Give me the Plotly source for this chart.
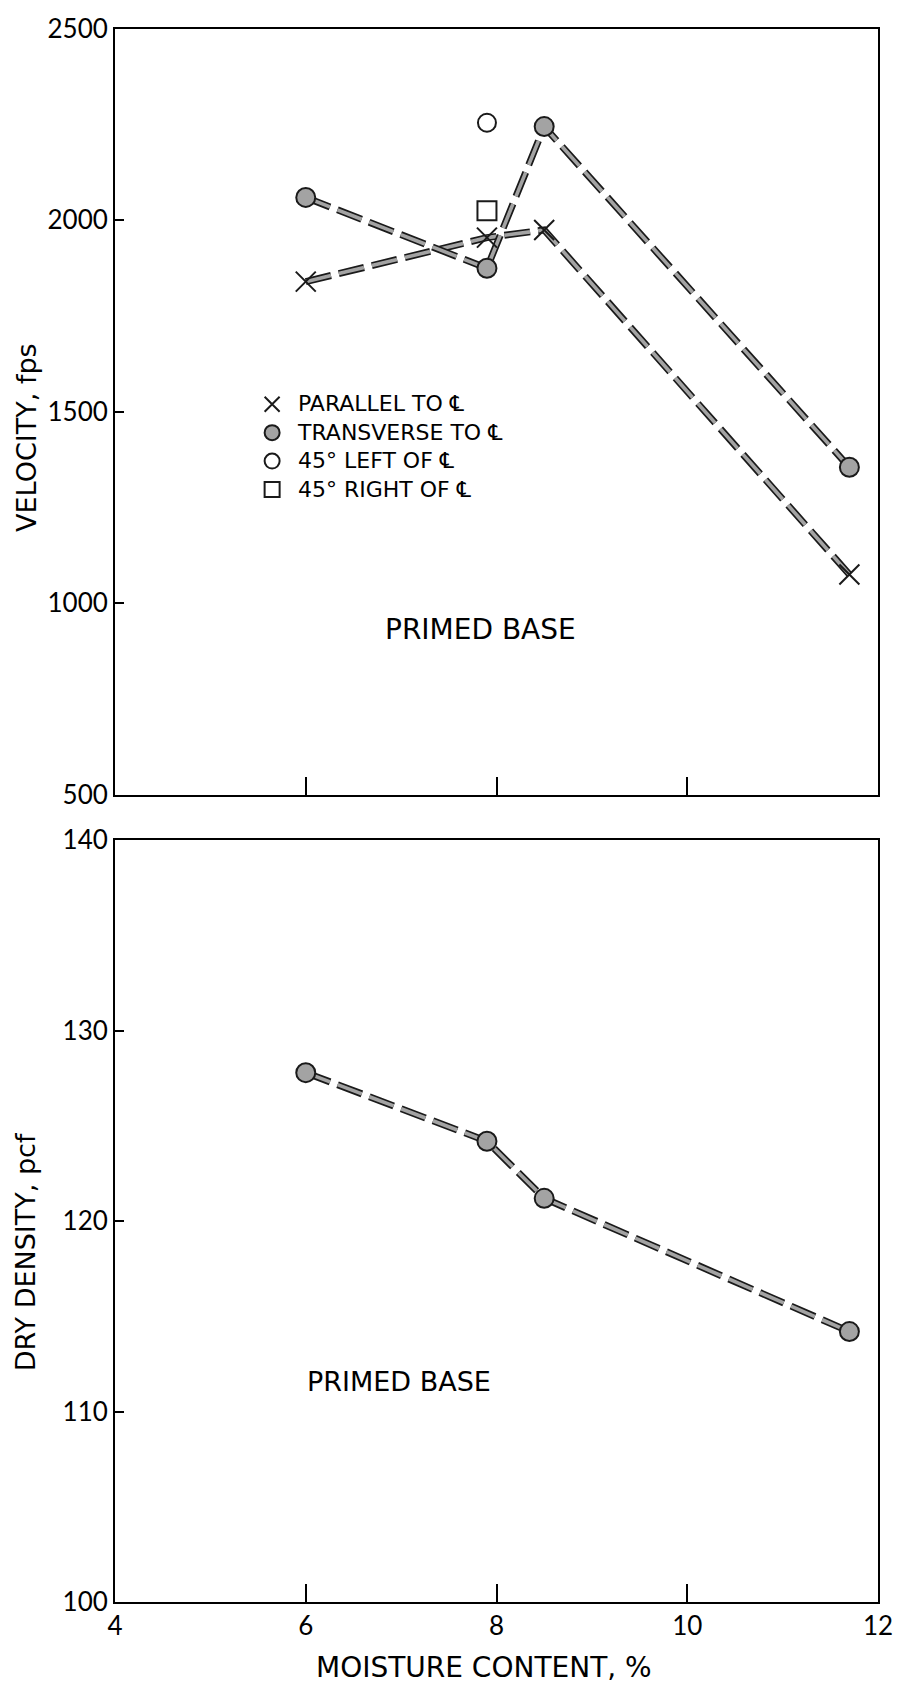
import plotly.graph_objects as go

# Moisture content (%) at each test location
moisture = [6.0, 7.9, 8.5, 11.7]

# Seismic velocity, fps
vel_parallel = [1840, 1955, 1975, 1075]
vel_transverse = [2060, 1875, 2245, 1355]
left45_x = [7.9]
left45_y = [2255]
right45_x = [7.9]
right45_y = [2025]

# Dry density, pcf
dry_density = [127.8, 124.2, 121.2, 114.2]

vel_ticks = [500, 1000, 1500, 2000, 2500]
dens_ticks = [100, 110, 120, 130, 140]
x_ticks = [4, 6, 8, 10, 12]

legend_labels = ["PARALLEL TO \u2104", "TRANSVERSE TO \u2104",
                 "45\u00b0 LEFT OF \u2104", "45\u00b0 RIGHT OF \u2104"]

TEXT_FONT = "'DejaVu Sans', sans-serif"
NUM_FONT = "Lato, 'DejaVu Sans', sans-serif"
DASH = "26px,8px"
INK = "#1a1a1a"
BAND = "#a3a3a3"

# marker styles shared by plotted points and legend keys
STYLE = {
    "parallel": dict(symbol="x-thin-open", color=INK, line=dict(color=INK, width=2)),
    "transverse": dict(symbol="circle", color=BAND, line=dict(color=INK, width=2)),
    "left": dict(symbol="circle-open", color=INK, line=dict(color=INK, width=2)),
    "right": dict(symbol="square-open", color=INK, line=dict(color=INK, width=2)),
}

fig = go.Figure()


def banded_line(x, y, xa, ya):
    """Dashed grey band with a dark edge, as two stacked dashed strokes."""
    fig.add_trace(go.Scatter(x=x, y=y, xaxis=xa, yaxis=ya, mode="lines",
                             line=dict(color=INK, width=7, dash=DASH),
                             showlegend=False, hoverinfo="skip"))
    fig.add_trace(go.Scatter(x=x, y=y, xaxis=xa, yaxis=ya, mode="lines",
                             line=dict(color=BAND, width=3.6, dash=DASH),
                             showlegend=False, hoverinfo="skip"))


def points(x, y, xa, ya, key, size):
    fig.add_trace(go.Scatter(x=x, y=y, xaxis=xa, yaxis=ya, mode="markers",
                             showlegend=False,
                             marker=dict(size=size, **STYLE[key])))


# Velocity panel
banded_line(moisture, vel_parallel, "x", "y")
banded_line(moisture, vel_transverse, "x", "y")
points(moisture, vel_parallel, "x", "y", "parallel", 20)
points(moisture, vel_transverse, "x", "y", "transverse", 19)
points(left45_x, left45_y, "x", "y", "left", 18)
points(right45_x, right45_y, "x", "y", "right", 19)

# Density panel
banded_line(moisture, dry_density, "x2", "y2")
points(moisture, dry_density, "x2", "y2", "transverse", 19)

# Key for the velocity panel, on pixel-scaled axes overlaid on that panel.
# The labels form one text block (line pitch = 1.3 x font size).
KEY_FONT = 22
pitch = 1.3 * KEY_FONT
key_x, text_x = 275, 299
block_mid = 441
key_rows = [block_mid + (i - 1.5) * pitch for i in range(4)]
for key, row in zip(["parallel", "transverse", "left", "right"], key_rows):
    fig.add_trace(go.Scatter(x=[key_x], y=[row], xaxis="x3", yaxis="y3",
                             mode="markers", showlegend=False, hoverinfo="skip",
                             marker=dict(size=15, **STYLE[key])))
fig.add_annotation(text="<br>".join(legend_labels), xref="x3", yref="y3",
                   x=text_x, y=block_mid, xanchor="left", yanchor="middle",
                   align="left", showarrow=False, borderpad=0,
                   font=dict(family=TEXT_FONT, size=KEY_FONT, color="black"))

axis_common = dict(showline=True, linecolor="black", linewidth=2, mirror=True,
                   showgrid=False, zeroline=False, ticks="inside",
                   tickcolor="black", tickwidth=2, ticklabeloverflow="allow",
                   tickfont=dict(family=NUM_FONT, size=26, color="black"))

fig.update_layout(
    width=905, height=1694,
    margin=dict(l=115, r=13, t=21, b=92),
    paper_bgcolor="white", plot_bgcolor="white",
    font=dict(family=TEXT_FONT, color="black"),
    showlegend=False,
    xaxis=dict(domain=[0, 1], anchor="y", range=[4, 12], tickvals=x_ticks,
               showticklabels=False, ticklen=18, **axis_common),
    yaxis=dict(domain=[0.5133, 1.0], anchor="x", range=[500, 2500],
               tickvals=vel_ticks, ticklen=9, **axis_common),
    xaxis2=dict(domain=[0, 1], anchor="y2", range=[4, 12], tickvals=x_ticks,
                ticklen=18, **axis_common),
    yaxis2=dict(domain=[0, 0.4842], anchor="x2", range=[100, 140],
                tickvals=dens_ticks, ticklen=9, **axis_common),
    xaxis3=dict(overlaying="x", anchor="y3", range=[115, 892], visible=False,
                fixedrange=True),
    yaxis3=dict(overlaying="y", anchor="x3", range=[790.5, 21], visible=False,
                fixedrange=True),
)

fig.add_annotation(text="MOISTURE CONTENT, %", xref="paper", yref="paper",
                   x=0.483, y=-0.0418, xanchor="center", yanchor="middle",
                   showarrow=False, font=dict(family=TEXT_FONT, size=28))
fig.add_annotation(text="VELOCITY, fps", xref="paper", yref="paper",
                   x=-0.117, y=0.7405, xanchor="center", yanchor="middle",
                   textangle=-90, showarrow=False,
                   font=dict(family=TEXT_FONT, size=27))
fig.add_annotation(text="DRY DENSITY, pcf", xref="paper", yref="paper",
                   x=-0.117, y=0.2228, xanchor="center", yanchor="middle",
                   textangle=-90, showarrow=False,
                   font=dict(family=TEXT_FONT, size=27))
fig.add_annotation(text="PRIMED BASE", xref="x", yref="y", x=7.83, y=930,
                   showarrow=False, font=dict(family=TEXT_FONT, size=28))
fig.add_annotation(text="PRIMED BASE", xref="x2", yref="y2", x=6.98, y=111.6,
                   showarrow=False, font=dict(family=TEXT_FONT, size=27))

fig.write_html("out.html")
